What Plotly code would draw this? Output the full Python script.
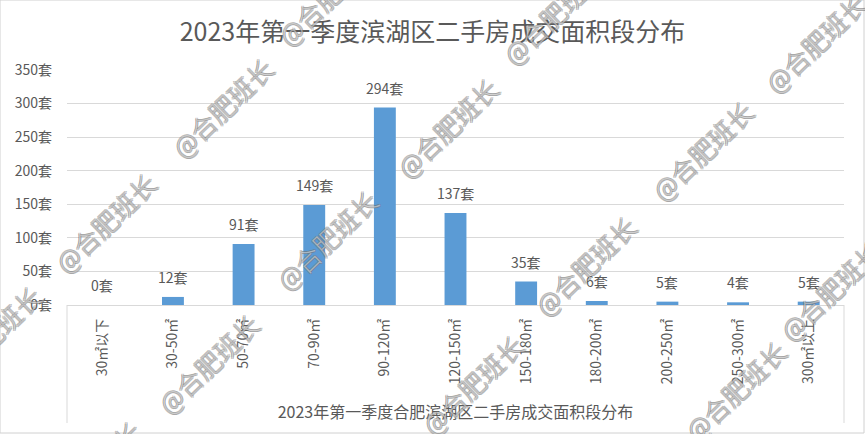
import plotly.graph_objects as go

categories = ["30㎡以下", "30-50㎡", "50-70㎡", "70-90㎡", "90-120㎡", "120-150㎡",
              "150-180㎡", "180-200㎡", "200-250㎡", "250-300㎡", "300㎡以上"]
values = [0, 12, 91, 149, 294, 137, 35, 6, 5, 4, 5]
y_ticks = [0, 50, 100, 150, 200, 250, 300, 350]
y_tick_labels = ["0套", "50套", "100套", "150套", "200套", "250套", "300套", "350套"]
title_text = "2023年第一季度滨湖区二手房成交面积段分布"
x_title_text = "2023年第一季度合肥滨湖区二手房成交面积段分布"
watermark = "@合肥班长"
# watermark centres in pixel coordinates of the picture
wm_pos = [(222, 107), (105, 222), (327, 240), (208, 363), (447, 127), (328, -5),
          (553, 14), (815, 42), (702, 150), (585, 265), (472, 384), (735, 390),
          (830, 290), (-10, 335), (90, 470)]

W, H = 865, 434
L, R, T, B = 67, 844, 70, 305
FONT = "Noto Sans CJK SC, Microsoft YaHei, sans-serif"
GREY = "#595959"

def px_to_paper(x, y):
    return (x - L) / (R - L), (B - y) / (B - T)

fig = go.Figure()
fig.add_trace(go.Bar(
    x=categories, y=values, marker_color="#5B9BD5",
    marker_line_width=0, width=0.31, hoverinfo="x+y"))

annotations = []
for c, v in zip(categories, values):
    annotations.append(dict(x=c, y=v, text=f"{v}套", showarrow=False, yshift=20,
                            yanchor="middle", xanchor="center",
                            font=dict(family=FONT, size=14, color=GREY)))
wm_shadow = ("1px 0 0 #707070, -1px 0 0 #707070, 0 1px 0 #707070, 0 -1px 0 #707070")
for (wx, wy) in wm_pos:
    px, py = px_to_paper(wx, wy)
    annotations.append(dict(x=px, y=py, xref="paper", yref="paper", text=watermark,
                            showarrow=False, textangle=-44, xanchor="center",
                            yanchor="middle",
                            font=dict(family=FONT, size=26, color="rgba(255,255,255,0.45)",
                                      shadow=wm_shadow, weight=300)))

bx0, by0 = px_to_paper(0, 433)
bx1, by1 = px_to_paper(864, 0)
_, ybox = px_to_paper(0, 423)
shapes = [
    dict(type="line", xref="paper", yref="paper", x0=0, x1=0, y0=0, y1=ybox,
         line=dict(color="#D9D9D9", width=1)),
    dict(type="line", xref="paper", yref="paper", x0=1, x1=1, y0=0, y1=ybox,
         line=dict(color="#D9D9D9", width=1)),
    dict(type="rect", xref="paper", yref="paper", x0=bx0, x1=bx1, y0=by0, y1=by1,
         line=dict(color="#D0D0D0", width=1)),
]

fig.update_layout(
    width=W, height=H,
    margin=dict(l=L, r=W - R, t=T, b=H - B),
    paper_bgcolor="white", plot_bgcolor="white",
    showlegend=False,
    title=dict(text=title_text, x=0.5, xanchor="center", y=1 - 32 / H, yanchor="middle",
               font=dict(family=FONT, size=25, color=GREY)),
    xaxis=dict(tickangle=-90, tickfont=dict(family=FONT, size=14, color=GREY),
               showgrid=False, showline=False, zeroline=False, ticks="",
               automargin=False, ticklabelstandoff=10,
               title=dict(text=x_title_text, standoff=23,
                          font=dict(family=FONT, size=16, color=GREY))),
    yaxis=dict(range=[0, 350], tickvals=y_ticks, ticktext=y_tick_labels,
               tickfont=dict(family=FONT, size=14, color=GREY),
               showgrid=True, gridcolor="#D9D9D9", gridwidth=1,
               zeroline=True, zerolinecolor="#D9D9D9", zerolinewidth=1,
               showline=False, ticks="", automargin=False, ticklabelstandoff=14),
    annotations=annotations,
    shapes=shapes,
    bargap=0.69,
)

fig.write_html("out.html", config={"displayModeBar": False},
               post_script="document.body.style.margin='0';")
